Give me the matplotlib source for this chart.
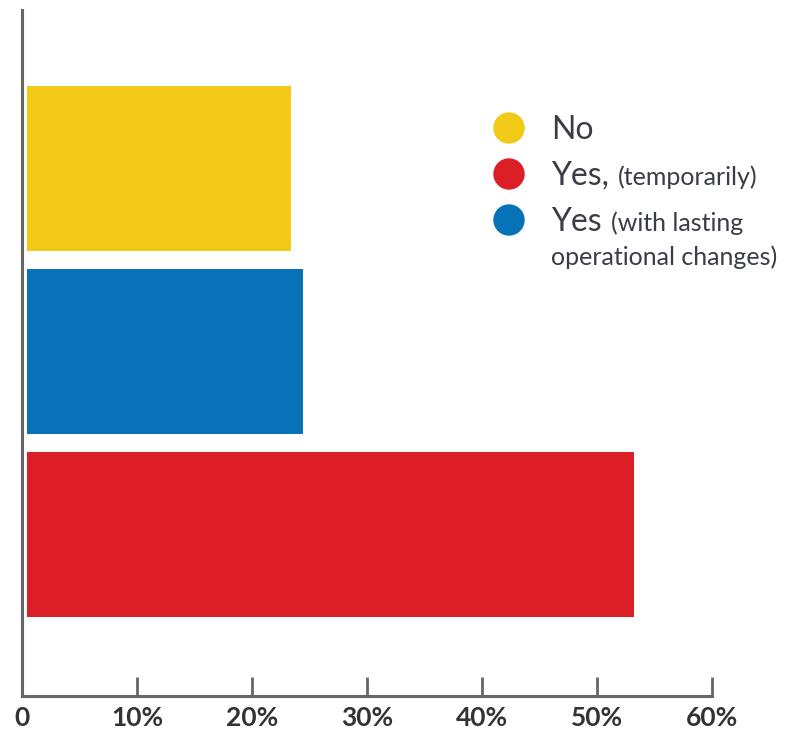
import matplotlib
matplotlib.use("Agg")
import matplotlib.pyplot as plt
from matplotlib.patches import Ellipse

# data (bottom to top)
categories = ["Yes, (temporarily)", "Yes (with lasting operational changes)", "No"]
values = [53.2, 24.4, 23.4]
colors = ["#dc1f26", "#0872b9", "#f2c916"]
ticks = [0, 10, 20, 30, 40, 50, 60]
tick_labels = ["0", "10%", "20%", "30%", "40%", "50%", "60%"]

W, H = 809, 734
fig = plt.figure(figsize=(W / 100, H / 100), dpi=100)
ax = fig.add_axes([22 / W, 1 - 696 / H, (712 - 22) / W, (696 - 10) / H])

start = 0.45  # bars begin a little right of the axis line
pos = list(range(len(categories)))
ax.barh(pos, [v - start for v in values], left=start, height=0.9, color=colors)

ax.set_xlim(0, 60)
ax.set_ylim(-0.8825, 2.866)
ax.set_yticks([])
ax.set_xticks(ticks)
ax.set_xticklabels(tick_labels, fontfamily="Lato", fontweight="bold",
                   fontsize=19, color="#333333")
ax.tick_params(axis="x", length=14, width=2, color="#666666", direction="in", pad=7)
for s in ["top", "right"]:
    ax.spines[s].set_visible(False)
for s in ["left", "bottom"]:
    ax.spines[s].set_color("#666666")
    ax.spines[s].set_linewidth(2.2)

# legend built by hand (mixed font sizes)
txt = "#3a3d45"
big, small = 23, 18
legend_rows = [("No", "", 128, 139), ("Yes,", "(temporarily)", 174, 185),
               ("Yes", "(with lasting", 220, 231)]
legend_colors = ["#f2c916", "#dc1f26", "#0872b9"]
fig.canvas.draw()
r = fig.canvas.get_renderer()
for (a, b, cy, by), c in zip(legend_rows, legend_colors):
    fig.patches.append(Ellipse((509 / W, 1 - cy / H), 30 / W, 30 / H,
                               transform=fig.transFigure, color=c))
    t = fig.text(551 / W, 1 - by / H, a, fontsize=big, color=txt,
                 fontfamily="Lato", va="baseline")
    if b:
        x1 = t.get_window_extent(r).x1
        fig.text((x1 + 9) / W, 1 - by / H, b, fontsize=small, color=txt,
                 fontfamily="Lato", va="baseline")
fig.text(551 / W, 1 - 265 / H, "operational changes)", fontsize=small, color=txt,
         fontfamily="Lato", va="baseline")

fig.savefig("out.png", dpi=100)
